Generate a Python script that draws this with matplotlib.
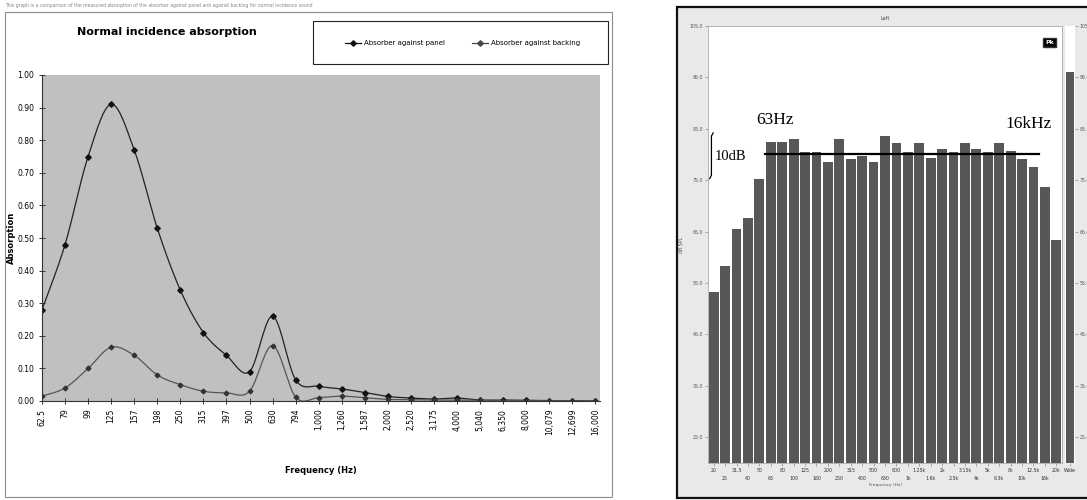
import numpy as np
import matplotlib.pyplot as plt
from matplotlib.patches import Rectangle

# ---- left chart data (Excel style absorption plot) ----
freq_labels = ['62.5', '79', '99', '125', '157', '198', '250', '315', '397', '500',
               '630', '794', '1,000', '1,260', '1,587', '2,000', '2,520', '3,175',
               '4,000', '5,040', '6,350', '8,000', '10,079', '12,699', '16,000']
panel = [0.28, 0.48, 0.75, 0.91, 0.77, 0.53, 0.34, 0.21, 0.14, 0.09,
         0.26, 0.065, 0.045, 0.037, 0.026, 0.014, 0.009, 0.006, 0.009, 0.003,
         0.003, 0.002, 0.001, 0.001, 0.0]
backing = [0.015, 0.04, 0.10, 0.165, 0.14, 0.08, 0.05, 0.03, 0.025, 0.03,
           0.17, 0.012, 0.01, 0.015, 0.01, 0.005, 0.004, 0.003, 0.003, 0.002,
           0.001, 0.001, 0.001, 0.0, 0.0]

# ---- right chart data (1/3 octave spectrum) ----
bands = ['20', '25', '31.5', '40', '50', '63', '80', '100', '125', '160', '200',
         '250', '315', '400', '500', '630', '800', '1k', '1.25k', '1.6k', '2k',
         '2.5k', '3.15k', '4k', '5k', '6.3k', '8k', '10k', '12.5k', '16k', '20k']
levels = [53.2, 58.4, 65.5, 67.7, 75.3, 82.5, 82.5, 83.1, 80.5, 80.5, 78.6,
          83.1, 79.2, 79.8, 78.6, 83.6, 82.3, 80.5, 82.3, 79.4, 81.1, 80.5,
          82.3, 81.1, 80.5, 82.3, 80.7, 79.2, 77.6, 73.7, 63.3]
wide_level = 96.1
ref_level = 80.1

W, H = 1087.0, 500.0
narrow = ['Liberation Sans Narrow', 'DejaVu Sans']
serif = ['Liberation Serif', 'DejaVu Serif']


def box(x0, y0, x1, y1):
    # pixel box (top-left origin) -> figure fraction rect
    return [x0 / W, 1 - y1 / H, (x1 - x0) / W, (y1 - y0) / H]


def smooth(xs, ys, n=20):
    # Excel-like smoothed line (Catmull-Rom through the points)
    p = np.column_stack([xs, ys]).astype(float)
    p = np.vstack([p[0], p, p[-1]])
    out = []
    for i in range(1, len(p) - 2):
        p0, p1, p2, p3 = p[i - 1], p[i], p[i + 1], p[i + 2]
        c1 = p1 + (p2 - p0) / 6
        c2 = p2 - (p3 - p1) / 6
        t = np.linspace(0, 1, n)[:, None]
        seg = (1 - t) ** 3 * p1 + 3 * (1 - t) ** 2 * t * c1 + 3 * (1 - t) * t ** 2 * c2 + t ** 3 * p2
        out.append(seg)
    out = np.vstack(out)
    return out[:, 0], out[:, 1]


fig = plt.figure(figsize=(W / 100, H / 100), dpi=100)

# ================= left chart =================
fig.patches.append(Rectangle((5 / W, 1 - 497 / H), 607 / W, 485 / H, transform=fig.transFigure,
                             fill=False, edgecolor='#8c8c8c', lw=0.8, zorder=-5))
fig.text(5 / W, 1 - 5 / H, 'This graph is a comparison of the measured absorption of the absorber '
         'against panel and against backing for normal incidence sound',
         fontsize=3.3, color='#888888', va='center', family=narrow)
fig.text(167 / W, 1 - 32 / H, 'Normal incidence absorption', fontsize=8, fontweight='bold',
         ha='center', va='center', family=narrow)

ax1 = fig.add_axes(box(42, 75, 600, 401))
ax1.set_facecolor('#c0c0c0')
x = np.arange(len(freq_labels))
sx, sy = smooth(x, panel)
ax1.plot(sx, sy, color='#222222', lw=0.9)
ax1.plot(x, panel, 'D', color='#111111', ms=2.8, ls='none')
bx, by = smooth(x, backing)
ax1.plot(bx, by, color='#555555', lw=0.9)
ax1.plot(x, backing, 'D', color='#333333', ms=2.4, ls='none')
ax1.set_xlim(0, len(freq_labels) - 1 + 0.2)
ax1.set_ylim(0, 1)
ax1.set_yticks(np.arange(0, 1.01, 0.1))
ax1.set_yticklabels(['%.2f' % v for v in np.arange(0, 1.01, 0.1)], fontsize=5.5, family=narrow)
ax1.set_xticks(x)
ax1.set_xticklabels(freq_labels, rotation=90, fontsize=5.5, family=narrow)
ax1.tick_params(direction='inout', length=5, width=0.7, color='#333333', pad=3)
for s in ['top', 'right']:
    ax1.spines[s].set_visible(False)
for s in ['left', 'bottom']:
    ax1.spines[s].set_color('#333333')
    ax1.spines[s].set_linewidth(0.8)
ax1.set_ylabel('Absorption', fontsize=6, fontweight='bold', family=narrow, labelpad=1)
ax1.set_xlabel('Frequency (Hz)', fontsize=6, fontweight='bold', family=narrow, labelpad=22)

# legend box
fig.patches.append(Rectangle((313 / W, 1 - 64 / H), 295 / W, 43 / H, transform=fig.transFigure,
                             fill=False, edgecolor='#222222', lw=0.8, zorder=-5))
for lx, txt, col in [(345, 'Absorber against panel', '#111111'),
                     (472, 'Absorber against backing', '#444444')]:
    fig.lines.append(plt.Line2D([lx / W, (lx + 16) / W], [1 - 43 / H, 1 - 43 / H], color=col,
                                lw=0.9, transform=fig.transFigure))
    fig.lines.append(plt.Line2D([(lx + 8) / W], [1 - 43 / H], color=col, marker='D', ms=2.8,
                                transform=fig.transFigure))
    fig.text((lx + 19) / W, 1 - 43 / H, txt, fontsize=5, va='center', family=narrow)

# ================= right chart =================
fig.patches.append(Rectangle((677 / W, 1 - 498 / H), 420 / W, 491 / H, transform=fig.transFigure,
                             facecolor='#e9e9e9', edgecolor='#111111', lw=1.6, zorder=-5))
ax2 = fig.add_axes(box(708, 26, 1062, 463))
ax2.set_facecolor('white')
idx = np.arange(len(bands))
ax2.bar(idx, np.array(levels) - 20, bottom=20, width=0.86, color='#575757')
ax2.set_xlim(-0.5, len(bands) - 0.5)
ax2.set_ylim(20, 105)
yt = np.arange(25, 106, 10)
ax2.set_yticks(yt)
ax2.set_yticklabels(['%.1f' % v for v in yt], fontsize=3.4, color='#555555')
ax2.set_xticks(idx)
ax2.set_xticklabels([b if i % 2 == 0 else '\n' + b for i, b in enumerate(bands)],
                    fontsize=3.4, color='#333333', linespacing=1.9)
ax2.tick_params(length=2, width=0.5, color='#888888', pad=1.5)
for s in ax2.spines.values():
    s.set_color('#aaaaaa')
    s.set_linewidth(0.6)
ax2.set_title('Left', fontsize=3.6, color='#444444', pad=4)
ax2.set_ylabel('dB SPL', fontsize=3.4, color='#555555', labelpad=4)
ax2.set_xlabel('Frequency (Hz)', fontsize=3.2, color='#555555', labelpad=1)

# reference line and hand written notes
ax2.plot([4.5, 28.5], [ref_level, ref_level], color='black', lw=1.6)
ax2.text(5.4, 86.8, '63Hz', family=serif, fontsize=12.5, ha='center', va='center')
ax2.text(27.6, 85.9, '16kHz', family=serif, fontsize=12.5, ha='center', va='center')
ax2.text(0.05, 79.6, '10dB', family=serif, fontsize=10.5, ha='left', va='center')
ax2.plot([-0.05, -0.2, -0.2, -0.35], [84.2, 83.6, 76.0, 75.3], color='black', lw=0.9)

# icon box
ax2.text(29.4, 101.8, 'Pk', fontsize=4.5, color='white', ha='center', va='center',
         fontweight='bold', bbox=dict(boxstyle='square,pad=0.35', fc='black', ec='#333333'))

# broadband bar
ax3 = fig.add_axes(box(1065, 26, 1075, 463))
ax3.bar([0], [wide_level - 20], bottom=20, width=0.85, color='#575757')
ax3.set_xlim(-0.5, 0.5)
ax3.set_ylim(20, 105)
ax3.set_xticks([0])
ax3.set_xticklabels(['Wide'], fontsize=3.4, color='#333333')
ax3.yaxis.tick_right()
ax3.set_yticks(yt)
ax3.set_yticklabels(['%.1f' % v for v in yt], fontsize=3.4, color='#555555')
ax3.tick_params(length=2, width=0.5, color='#888888', pad=1.5)
for s in ax3.spines.values():
    s.set_visible(False)

fig.savefig('out.png', dpi=100)
